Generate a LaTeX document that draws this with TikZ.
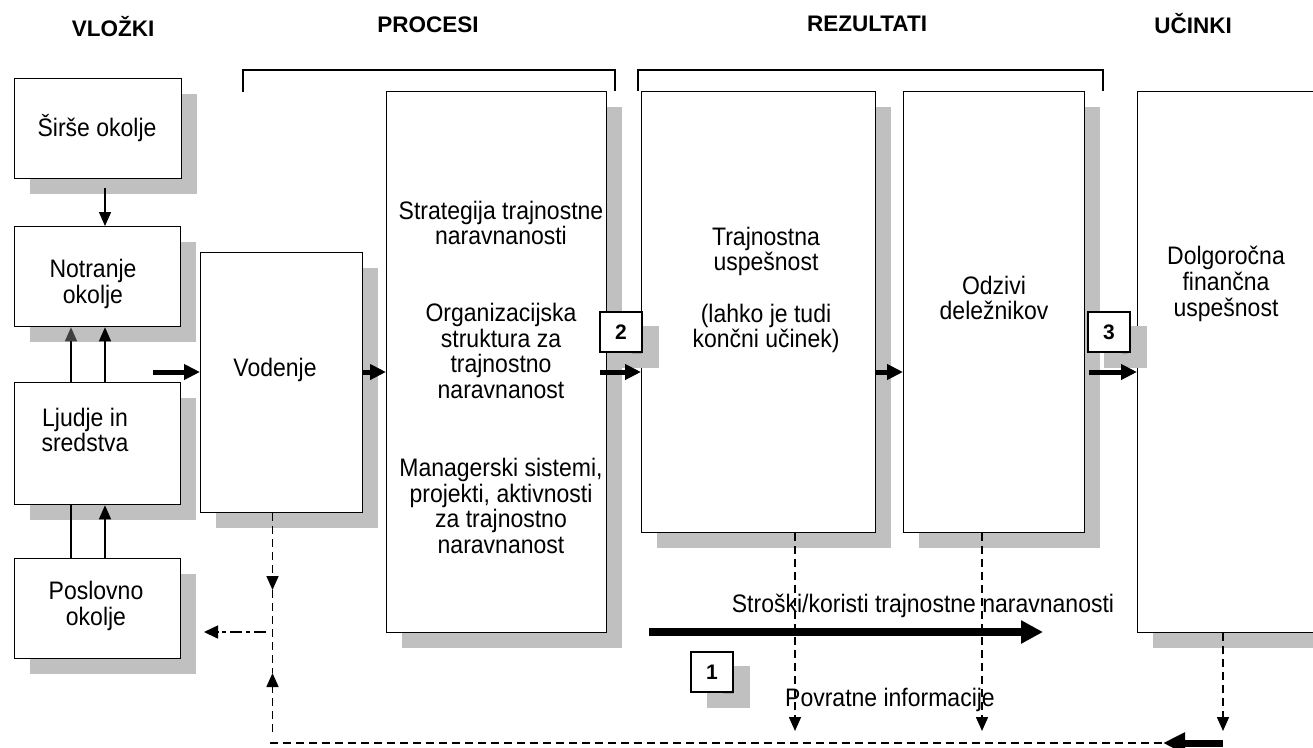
\documentclass[tikz,border=0pt]{standalone}
\usepackage{fontspec}
\setmainfont{Liberation Sans}
\usetikzlibrary{arrows.meta,shadows}
\definecolor{shgray}{RGB}{192,192,192}
\definecolor{ghost}{RGB}{160,160,160}
\definecolor{dkhead}{RGB}{64,64,64}
\newcommand{\tl}[1]{\scalebox{1}[1.1]{\vbox{\lineskiplimit=-\maxdimen\halign{\hfil##\hfil\cr#1\crcr}}}}
\begin{document}
\begin{tikzpicture}[x=1pt,y=-1pt,
  bx/.style={draw=black, line width=1.3pt, fill=white, anchor=north west, inner sep=0pt,
     drop shadow={shadow xshift=15pt, shadow yshift=-15pt, fill=shgray, opacity=1}},
  txt/.style={inner sep=0pt, font=\fontsize{23}{23.27}\selectfont},
  hdr/.style={inner sep=0pt, anchor=base, font=\fontsize{22.5}{26}\selectfont\bfseries},
  num/.style={draw=black, line width=1.3pt, fill=white, minimum width=42pt, minimum height=40pt, inner sep=0pt, font=\fontsize{21}{24}\selectfont\bfseries},
  numsh/.style={fill=shgray, minimum width=43pt, minimum height=42pt, inner sep=0pt, text=ghost, font=\fontsize{21}{24}\selectfont\bfseries},
  brk/.style={line width=1.3pt},
  tarr/.style={line width=1.4pt, -{Triangle[length=14pt,width=12pt]}},
  fat/.style={line width=5pt, -{Triangle[length=16pt,width=15pt]}},
  dsh/.style={line width=1.6pt, dash pattern=on 8pt off 5pt},
  dsharr/.style={dsh, -{Triangle[length=14pt,width=12pt]}},
  ddarr/.style={line width=1.6pt, dash pattern=on 12pt off 4pt on 4pt off 4pt, -{Triangle[length=14pt,width=13pt]}},
  bigarr/.style={line width=8pt, -{Triangle[length=22pt,width=22pt]}},
  bigbarr/.style={line width=7pt, -{Triangle[length=22pt,width=20pt]}},
]
\useasboundingbox (0,0) rectangle (1313,747);

% headers
\node[hdr] (hV) at (113,36) {VLOŽKI};
\node[hdr] (hP) at (428,32) {PROCESI};
\node[hdr] (hR) at (867,31) {REZULTATI};
\node[hdr] (hU) at (1193,33) {UČINKI};

% brackets
\coordinate (k0) at (0,70);
\coordinate (b1l) at (243,92);
\coordinate (b1r) at (615,91);
\coordinate (b2l) at (638,91);
\coordinate (b2r) at (1103,91);
\draw[brk] (b1l) -- (b1l |- k0) -- (b1r |- k0) -- (b1r);
\draw[brk] (b2l) -- (b2l |- k0) -- (b2r |- k0) -- (b2r);

% boxes
\node[bx, minimum width=167pt, minimum height=100pt] (sirse) at (14,78) {};
\node[bx, minimum width=166pt, minimum height=100pt] (notr) at (14,226) {};
\node[bx, minimum width=166pt, minimum height=122pt] (ljud) at (14,382) {};
\node[bx, minimum width=166pt, minimum height=100pt] (posl) at (14,558) {};
\node[bx, minimum width=162pt, minimum height=260pt] (vod) at (200,252) {};
\node[bx, minimum width=220pt, minimum height=541pt] (strat) at (386,91) {};
\node[bx, minimum width=234pt, minimum height=441pt] (traj) at (641,91) {};
\node[bx, minimum width=181pt, minimum height=441pt] (odz) at (903,91) {};
\node[bx, minimum width=260pt, minimum height=541pt] (dolg) at (1137,91) {};

% texts
\node[txt] (tS) at (97,128) {\tl{Širše okolje}};
\node[txt] (tN) at (93,284) {\tl{Notranje\cr okolje}};
\node[txt] (tL) at (85,430) {\tl{Ljudje in\cr sredstva}};
\node[txt] (tP) at (96,606) {\tl{Poslovno\cr okolje}};
\node[txt] (tV) at (275,370) {\tl{Vodenje}};
\node[txt] (st1) at (501,223) {\tl{Strategija trajnostne\cr naravnanosti}};
\node[txt] (st2) at (501,351) {\tl{Organizacijska\cr struktura za\cr trajnostno\cr naravnanost}};
\node[txt] (st3) at (501,506) {\tl{Managerski sistemi,\cr projekti, aktivnosti\cr za trajnostno\cr naravnanost}};
\node[txt] (tT) at (766,290) {\tl{Trajnostna\cr uspešnost\cr\cr (lahko je tudi\cr končni učinek)}};
\node[txt] (tO) at (994,298) {\tl{Odzivi\cr deležnikov}};
\node[txt] (tD) at (1226,284) {\tl{Dolgoročna\cr finančna\cr uspešnost}};
\node[txt] (tC) at (923,606) {\tl{Stroški/koristi trajnostne naravnanosti}};
\node[txt] (tF) at (890,700) {\tl{Povratne informacije}};

% number boxes
\node[numsh] (n2s) at (637,347) {2};
\node[num] (n2) at (621,332) {2};
\node[numsh] (n3s) at (1125,347) {3};
\node[num] (n3) at (1109,332) {3};
\node[numsh] (n1s) at (728,687) {1};
\node[num] (n1) at (712,672) {1};

% left column arrows
\coordinate (cL) at (71,0);
\coordinate (cR) at (105,0);
\coordinate (a0) at (105,188);
\draw[tarr] (a0) -- (a0 |- notr.north);
\draw[line width=1.4pt, -{Triangle[length=14pt,width=12pt,fill=dkhead,color=dkhead]}] (cL |- ljud.north) -- (cL |- notr.south);
\draw[tarr] (cR |- ljud.north) -- (cR |- notr.south);
\draw[line width=1.4pt] (cL |- posl.north) -- (cL |- ljud.south);
\draw[tarr] (cR |- posl.north) -- (cR |- ljud.south);

% main row arrows
\coordinate (r) at (0,372);
\coordinate (i0) at (153,372);
\draw[fat] (i0) -- (i0 -| vod.west);
\draw[fat] (vod.east |- r) -- (strat.west |- r);
\coordinate (i2) at (600,372);
\draw[fat] (i2) -- (i2 -| traj.west);
\draw[fat] (traj.east |- r) -- (odz.west |- r);
\coordinate (i3) at (1089,372);
\draw[fat] (i3) -- (i3 -| dolg.west);

% costs/benefits arrow
\coordinate (s0) at (649,632);
\coordinate (s1) at (1043,632);
\draw[bigarr] (s0) -- (s1);

% feedback
\coordinate (d1) at (795,731);
\coordinate (d2) at (982,731);
\coordinate (d3) at (1223,731);
\draw[dsharr] (d1 |- traj.south) -- (d1);
\draw[dsharr] (d2 |- odz.south) -- (d2);
\draw[dsharr] (d3 |- dolg.south) -- (d3);
\coordinate (v1) at (272.5,590);
\coordinate (v2) at (272.5,673);
\coordinate (v3) at (272.5,732);
\draw[dsharr] (v1 |- vod.south) -- (v1);
\draw[dsh] (v1) -- (v2);
\draw[dsharr] (v3) -- (v2);
\coordinate (dd0) at (266,632);
\coordinate (dd1) at (204,632);
\draw[ddarr] (dd0) -- (dd1);
\coordinate (f0) at (270,743);
\coordinate (f1) at (1163,743);
\coordinate (f2) at (1223,743);
\draw[dsh] (f0) -- (f1);
\draw[bigbarr] (f2) -- (f1);
\end{tikzpicture}
\end{document}
